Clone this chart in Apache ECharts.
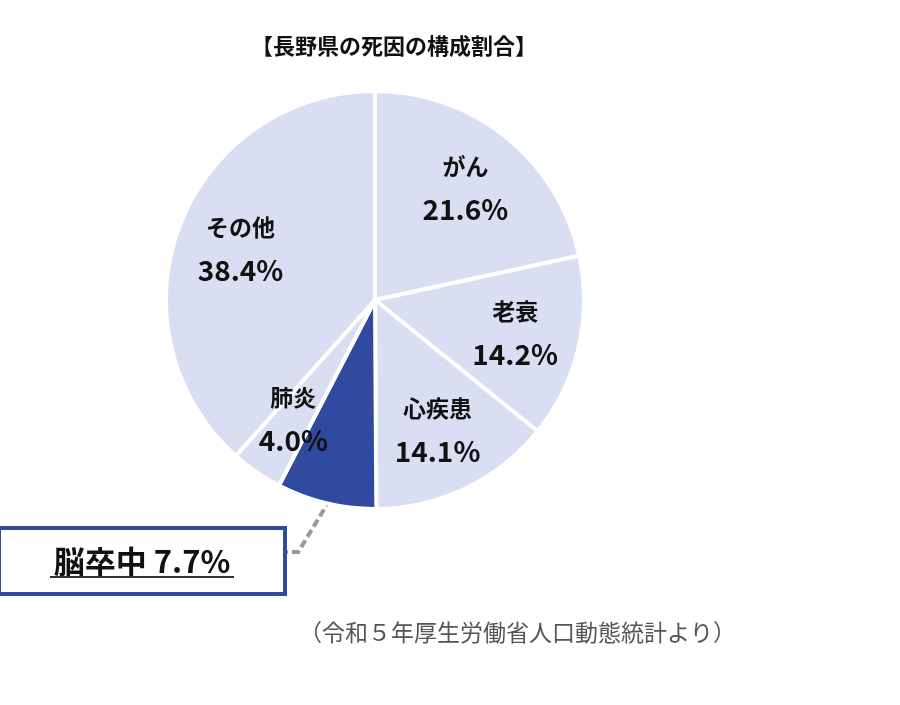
<!DOCTYPE html>
<html>
<head>
<meta charset="utf-8">
<script src="https://cdn.jsdelivr.net/npm/echarts@6/dist/echarts.min.js"></script>
<style>
html,body{margin:0;padding:0;background:#fff;}
#chart{width:900px;height:705px;}
</style>
</head>
<body>
<div id="chart"></div>
<script>
const titleText = '【長野県の死因の構成割合】';
const sourceText = '（令和５年厚生労働省人口動態統計より）';
const categories = ['がん', '老衰', '心疾患', '脳卒中', '肺炎', 'その他'];
const values = [21.6, 14.2, 14.1, 7.7, 4.0, 38.4];
const highlightName = '脳卒中';

const FONT = '"Noto Sans CJK JP", "Noto Sans", sans-serif';
const LIGHT = '#DADEF2';
const DARK = '#2F4A9F';

const mainData = categories.map((name, i) => {
  const isHi = name === highlightName;
  return {
    name: name,
    value: values[i],
    itemStyle: { color: isHi ? DARK : LIGHT },
    label: { show: isHi },
    labelLine: { show: isHi }
  };
});

const labelData = categories.map((name, i) => ({
  name: name,
  value: values[i],
  label: { show: name !== highlightName }
}));

const chart = echarts.init(document.getElementById('chart'));
chart.setOption({
  animation: false,
  backgroundColor: '#fff',
  title: [
    {
      text: titleText,
      left: 251, top: 35, padding: 0,
      textStyle: { fontFamily: FONT, fontSize: 22, fontWeight: 'bold', color: '#111' }
    },
    {
      text: sourceText,
      left: 299, top: 621, padding: 0,
      textStyle: { fontFamily: FONT, fontSize: 23, fontWeight: 'normal', color: '#555' }
    }
  ],
  series: [
    {
      type: 'pie',
      center: [375, 300],
      radius: [0, 209],
      startAngle: 90,
      clockwise: true,
      avoidLabelOverlap: false,
      silent: true,
      itemStyle: { borderColor: '#fff', borderWidth: 4 },
      label: {
        position: 'outside',
        fontFamily: FONT,
        backgroundColor: '#fff',
        borderColor: DARK,
        borderWidth: 4,
        padding: [17, 0, 13, 0],
        formatter: p => '{t|' + p.name + ' ' + p.value.toFixed(1) + '%}\n{u| }',
        rich: {
          t: { fontFamily: FONT, fontSize: 31, fontWeight: 'bold', color: '#111', width: 282, align: 'center', lineHeight: 28 },
          u: { width: 184, height: 2, lineHeight: 4, fontSize: 2, backgroundColor: '#333', align: 'center' }
        }
      },
      labelLine: {
        show: true,
        lineStyle: { color: '#999', width: 4, type: [8, 4] }
      },
      labelLayout: function (params) {
        if (categories[params.dataIndex] !== highlightName) return {};
        const p0 = params.labelLinePoints ? params.labelLinePoints[0] : [330, 498];
        const boxLeft = 1, boxTop = 530, boxRight = boxLeft + 282;
        const lineY = boxTop + 22;
        return {
          x: boxLeft, y: boxTop, align: 'left', verticalAlign: 'top',
          labelLinePoints: [[p0[0] + 4, p0[1] - 4], [p0[0] - 28, lineY], [boxRight + 2, lineY]]
        };
      },
      data: mainData
    },
    {
      type: 'pie',
      center: [375, 300],
      radius: [0, 282],
      startAngle: 90,
      clockwise: true,
      silent: true,
      z: 3,
      itemStyle: { color: 'rgba(0,0,0,0)', borderWidth: 0 },
      emphasis: { disabled: true },
      labelLine: { show: false },
      label: {
        position: 'inside',
        formatter: p => '{n|' + p.name + '}\n{v|' + p.value.toFixed(1) + '%}',
        rich: {
          n: { fontFamily: FONT, fontSize: 23, fontWeight: 'bold', color: '#111', lineHeight: 43 },
          v: { fontFamily: FONT, fontSize: 28, fontWeight: 'bold', color: '#111', lineHeight: 43 }
        }
      },
      data: labelData
    }
  ]
});
</script>
</body>
</html>
